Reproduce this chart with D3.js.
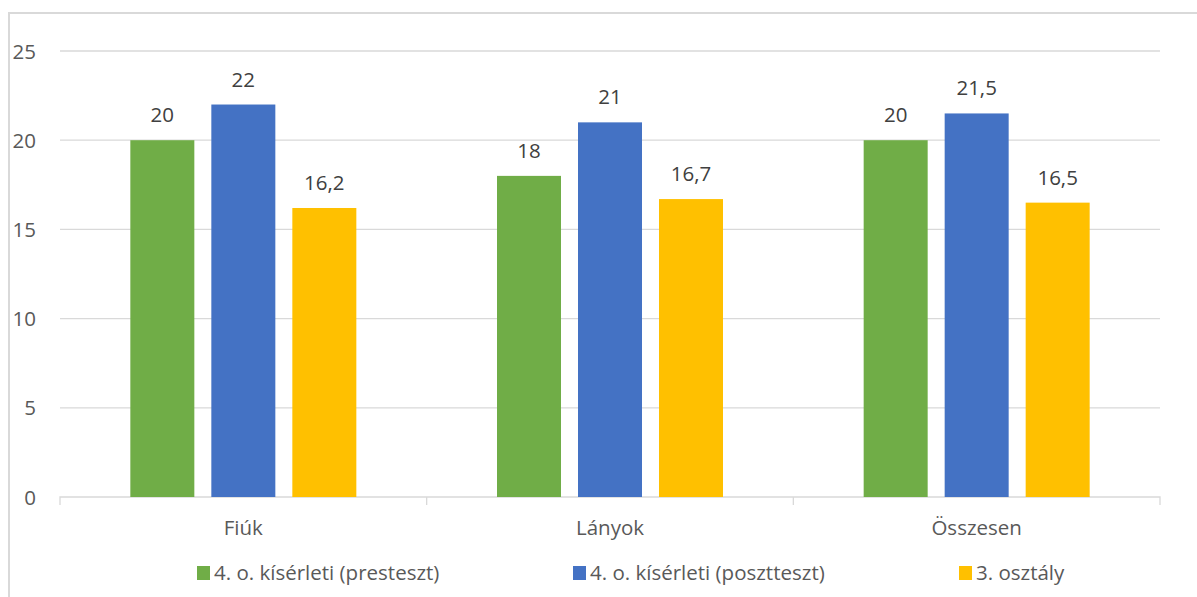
<!DOCTYPE html>
<html>
<head>
<meta charset="utf-8">
<script src="https://cdn.jsdelivr.net/npm/d3@7"></script>
<style>
  html, body { margin: 0; padding: 0; background: #fff; overflow: hidden; }
  svg { display: block; }
</style>
</head>
<body>
<svg id="chart" width="1197" height="597"></svg>
<script>
// Group labels along the x axis
const categories = ["Fiúk", "Lányok", "Összesen"];
// Series names (legend order)
const seriesNames = ["4. o. kísérleti (presteszt)", "4. o. kísérleti (posztteszt)", "3. osztály"];
// Values per series, aligned with categories
const preTest  = [20, 18, 20];
const postTest = [22, 21, 21.5];
const grade3   = [16.2, 16.7, 16.5];
const yTicks   = [0, 5, 10, 15, 20, 25];

const seriesValues = [preTest, postTest, grade3];
const colors = ["#70AD47", "#4472C4", "#FFC000"];
const textColor = "#595959";
const font = "'Open Sans', sans-serif";
const fontSize = "20.5px";

const svg = d3.select("#chart");
const W = 1197, H = 597;

// chart frame (extends past the visible area on the right and bottom)
svg.append("rect")
  .attr("x", 9).attr("y", 13)
  .attr("width", W + 40).attr("height", H + 40)
  .attr("fill", "#fff")
  .attr("stroke", "#d9d9d9").attr("stroke-width", 2);

const plot = { left: 60, right: 1160, top: 51, bottom: 497 };

const x = d3.scaleBand().domain(categories).range([plot.left, plot.right]).padding(0);
const y = d3.scaleLinear().domain([0, 25]).range([plot.bottom, plot.top]);

const barW = 64, barGap = 17;
const groupW = seriesValues.length * barW + (seriesValues.length - 1) * barGap;
const xs = d3.scaleBand()
  .domain(d3.range(seriesValues.length))
  .range([0, groupW])
  .paddingInner(barGap / (barW + barGap))
  .paddingOuter(0);

// horizontal gridlines
svg.append("g")
  .selectAll("line")
  .data(yTicks.filter(t => t > 0))
  .join("line")
  .attr("x1", plot.left).attr("x2", plot.right)
  .attr("y1", d => y(d)).attr("y2", d => y(d))
  .attr("stroke", "#d9d9d9").attr("stroke-width", 1.3);

// y axis labels
const yAxis = d3.axisLeft(y).tickValues(yTicks).tickSize(0).tickPadding(0);
const gy = svg.append("g").attr("transform", `translate(36,0)`).call(yAxis);
gy.select(".domain").remove();
gy.selectAll("text")
  .attr("fill", textColor)
  .style("font-family", font)
  .style("font-size", fontSize)
  .attr("dy", "0.35em");

// x axis: baseline with category separators
const xAxis = d3.axisBottom(x).tickSize(0).tickPadding(0).tickFormat("");
const gx = svg.append("g").attr("transform", `translate(0,${plot.bottom})`).call(xAxis);
gx.select(".domain").attr("stroke", "#d9d9d9").attr("stroke-width", 1.3)
  .attr("d", `M${plot.left},8V0H${plot.right}V8`);
gx.selectAll(".tick").remove();
const bounds = categories.map(c => x(c)).concat([x(categories[categories.length - 1]) + x.bandwidth()]);
gx.selectAll("line.sep")
  .data(bounds.slice(1, -1))
  .join("line")
  .attr("class", "sep")
  .attr("x1", d => d).attr("x2", d => d)
  .attr("y1", 0).attr("y2", 8)
  .attr("stroke", "#d9d9d9").attr("stroke-width", 1.3);

// category labels
svg.append("g")
  .selectAll("text")
  .data(categories)
  .join("text")
  .attr("x", d => x(d) + x.bandwidth() / 2)
  .attr("y", 535)
  .attr("text-anchor", "middle")
  .attr("fill", textColor)
  .style("font-family", font)
  .style("font-size", fontSize)
  .text(d => d);

// bars and value labels
const groups = svg.append("g")
  .selectAll("g")
  .data(categories)
  .join("g")
  .attr("transform", d => `translate(${x(d) + (x.bandwidth() - groupW) / 2},0)`);

groups.each(function (cat, ci) {
  const g = d3.select(this);
  const rows = seriesValues.map((vals, si) => ({ si, v: vals[ci] }));
  g.selectAll("rect")
    .data(rows)
    .join("rect")
    .attr("x", d => xs(d.si))
    .attr("width", xs.bandwidth())
    .attr("y", d => y(d.v))
    .attr("height", d => y(0) - y(d.v))
    .attr("fill", d => colors[d.si]);
  g.selectAll("text")
    .data(rows)
    .join("text")
    .attr("x", d => xs(d.si) + xs.bandwidth() / 2)
    .attr("y", d => y(d.v) - 18)
    .attr("text-anchor", "middle")
    .attr("fill", "#404040")
    .style("font-family", font)
    .style("font-size", fontSize)
    .text(d => String(d.v).replace(".", ","));
});

// legend
const legendX = [197, 573, 959];
const legend = svg.append("g")
  .selectAll("g")
  .data(seriesNames)
  .join("g")
  .attr("transform", (d, i) => `translate(${legendX[i]},566)`);
legend.append("rect")
  .attr("width", 13).attr("height", 14)
  .attr("fill", (d, i) => colors[i]);
legend.append("text")
  .attr("x", 17).attr("y", 14)
  .attr("fill", textColor)
  .style("font-family", font)
  .style("font-size", fontSize)
  .text(d => d);
</script>
</body>
</html>
